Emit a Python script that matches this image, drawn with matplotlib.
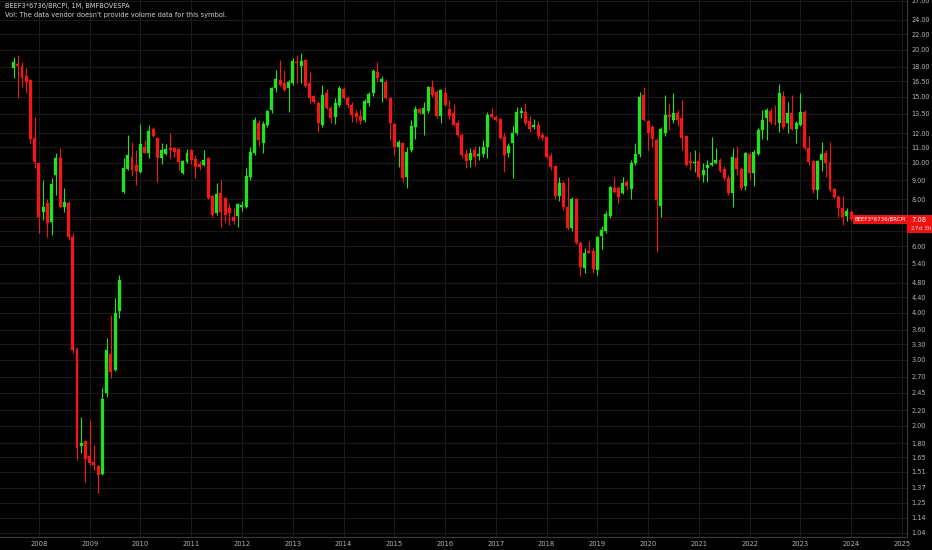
import matplotlib
matplotlib.use("Agg")
import matplotlib.pyplot as plt
from matplotlib.ticker import FixedLocator, FixedFormatter, NullLocator
from matplotlib.patches import Rectangle
import numpy as np
import pandas as pd

# ---------------- data (monthly candles, Jul 2007 .. Jan 2024) ----------------
start_month = "2007-07"
end_month = "2024-01"

opens = [17.85, 18.3, 18.1, 17.06, 16.6, 11.66,
         10.0, 7.41, 7.83, 6.97, 9.29, 10.31, 7.64, 7.83, 6.36, 3.21, 1.77, 1.82,
         1.665, 1.605, 1.567, 1.49, 2.45, 3.11, 2.82, 4.04, 8.37, 9.64, 10.4, 9.88,
         9.47, 11.0, 10.63, 12.32, 11.66, 10.31, 10.57, 10.97, 10.97, 10.9, 9.41, 10.06,
         10.83, 10.25, 9.94, 9.88, 10.31, 8.16, 7.37, 8.32, 8.08, 7.59, 7.19, 7.23,
         7.62, 7.64, 9.18, 10.63, 12.78, 11.3, 12.62, 13.83, 15.83, 16.6, 16.32, 15.83,
         16.32, 18.5, 18.1, 18.8, 16.32, 15.07, 14.44, 12.62, 15.35, 14.0, 13.25, 14.27,
         15.74, 14.9, 14.27, 13.59, 13.33, 13.0, 14.44, 15.35, 17.46, 16.4, 16.4, 14.9,
         12.7, 11.03, 11.3, 9.18, 10.83, 12.45, 13.92, 13.5, 13.75, 15.93, 15.44, 13.33,
         15.35, 13.92, 13.59, 12.78, 11.87, 10.57, 10.19, 10.83, 10.44, 10.57, 11.03, 13.5,
         13.25, 13.09, 11.73, 10.63, 11.3, 12.0, 13.59, 13.67, 12.94, 12.45, 12.62, 11.87,
         11.73, 10.44, 9.82, 8.16, 8.85, 7.64, 6.72, 8.0, 6.13, 5.26, 5.83, 5.83,
         5.2, 6.4, 6.6, 7.23, 8.58, 8.58, 8.32, 8.91, 8.52, 10.0, 10.57, 15.17,
         12.94, 12.45, 11.52, 7.69, 12.0, 13.42, 13.0, 13.59, 13.17, 11.8, 10.12, 10.0,
         10.12, 9.29, 9.7, 9.88, 10.0, 10.19, 9.64, 9.13, 8.32, 10.31, 9.64, 8.67,
         10.57, 9.41, 10.57, 12.24, 13.17, 13.75, 12.78, 12.78, 15.07, 12.78, 13.59, 12.32,
         12.62, 13.67, 10.97, 10.12, 8.46, 10.19, 10.63, 10.06, 8.52, 8.12, 7.59, 7.23,
         7.41]
highs = [19.1, 19.3, 18.5, 17.9, 16.7, 13.25,
         10.06, 9.0, 8.0, 9.1, 10.63, 10.97, 8.58, 7.9, 6.5, 3.25, 2.11, 1.83,
         2.07, 1.78, 1.58, 2.52, 3.43, 3.95, 4.38, 5.04, 10.31, 11.87, 11.37, 10.83,
         12.7, 11.52, 12.62, 12.45, 11.73, 11.3, 11.2, 12.0, 11.0, 10.97, 10.2, 10.9,
         10.9, 10.5, 10.1, 10.83, 10.4, 8.2, 8.85, 9.0, 8.1, 7.83, 7.6, 7.83,
         7.9, 9.7, 11.0, 13.25, 13.0, 12.9, 13.83, 15.93, 17.67, 18.8, 17.67, 16.6,
         19.0, 19.3, 19.6, 18.9, 17.4, 15.2, 14.6, 16.1, 15.7, 14.2, 14.9, 16.0,
         15.9, 15.1, 14.5, 13.8, 13.9, 14.8, 15.4, 17.8, 18.5, 17.0, 16.7, 15.0,
         12.8, 11.52, 11.37, 11.0, 13.0, 14.2, 14.0, 14.5, 16.0, 16.6, 15.6, 15.7,
         15.93, 14.7, 14.3, 13.0, 12.0, 10.9, 10.97, 11.1, 11.1, 11.52, 13.67, 14.0,
         13.4, 13.2, 12.0, 11.3, 12.5, 14.1, 14.1, 14.44, 13.3, 13.1, 12.9, 12.1,
         11.8, 10.6, 9.9, 9.18, 8.95, 9.18, 8.1, 8.05, 6.2, 5.95, 6.2, 5.95,
         6.4, 6.8, 7.45, 8.7, 9.18, 8.7, 9.18, 9.0, 10.2, 11.3, 15.44, 15.93,
         13.0, 12.6, 11.66, 12.48, 15.17, 14.44, 15.35, 13.83, 14.7, 11.9, 10.7, 10.83,
         10.6, 10.0, 10.2, 11.73, 10.97, 10.3, 9.8, 9.3, 10.97, 11.1, 9.75, 10.7,
         10.7, 10.83, 12.4, 13.83, 14.0, 14.0, 14.27, 16.2, 15.5, 14.5, 15.17, 12.9,
         15.35, 13.8, 11.8, 10.2, 10.2, 11.37, 10.8, 11.37, 8.6, 8.2, 8.16, 7.6,
         7.5]
lows = [16.8, 14.9, 15.96, 15.35, 11.3, 9.7,
        6.51, 7.06, 6.36, 6.44, 8.22, 7.6, 7.41, 6.25, 3.13, 1.62, 1.70, 1.42,
        1.575, 1.53, 1.33, 1.48, 2.39, 2.68, 2.8, 3.87, 8.32, 9.58, 9.24, 8.74,
        9.41, 10.6, 10.31, 11.75, 8.91, 9.94, 10.5, 10.25, 10.4, 9.58, 9.35, 10.0,
        9.94, 9.13, 9.6, 9.8, 8.0, 7.19, 7.28, 6.76, 6.97, 6.84, 6.9, 6.76,
        7.45, 7.59, 9.0, 10.5, 11.1, 10.63, 12.45, 13.6, 15.44, 16.0, 15.5, 13.67,
        16.1, 16.3, 16.3, 15.9, 14.44, 14.3, 12.1, 12.45, 13.9, 12.8, 12.7, 14.1,
        14.75, 14.0, 12.86, 12.86, 12.7, 12.86, 14.2, 15.1, 16.4, 14.53, 14.8, 11.52,
        10.5, 9.76, 8.91, 8.6, 10.7, 11.6, 13.45, 11.9, 13.6, 15.0, 13.2, 12.8,
        14.2, 13.1, 12.5, 11.7, 10.3, 9.7, 9.76, 9.82, 10.2, 10.4, 10.31, 13.2,
        12.9, 11.6, 9.47, 10.4, 9.13, 11.9, 13.2, 12.6, 12.1, 12.3, 11.6, 11.5,
        10.3, 9.6, 8.0, 7.9, 7.5, 6.65, 6.6, 6.1, 5.01, 5.1, 5.75, 5.1,
        5.05, 5.9, 6.5, 7.15, 8.3, 7.85, 8.25, 8.45, 8.0, 9.9, 10.4, 12.9,
        10.83, 11.0, 5.8, 7.2, 11.8, 12.2, 12.8, 12.5, 10.83, 9.82, 9.58, 9.47,
        9.0, 8.9, 8.9, 9.8, 9.95, 9.45, 9.0, 8.2, 7.64, 9.3, 8.5, 8.5,
        9.0, 8.7, 10.5, 11.6, 11.52, 12.7, 12.6, 12.1, 12.3, 12.0, 12.2, 11.3,
        12.5, 10.8, 9.9, 8.3, 8.0, 9.5, 9.18, 8.35, 8.05, 7.19, 6.84, 7.0,
        7.0]
closes = [18.6, 18.1, 16.86, 16.4, 11.6, 10.06,
          7.19, 7.64, 6.93, 8.79, 10.31, 7.64, 7.88, 6.36, 3.18, 1.75, 1.80, 1.63,
          1.595, 1.575, 1.48, 2.36, 3.18, 2.78, 4.0, 4.89, 9.7, 10.5, 9.58, 9.53,
          11.23, 10.63, 12.17, 11.8, 10.31, 10.83, 10.9, 10.83, 10.7, 10.06, 10.12, 10.63,
          10.19, 9.76, 9.76, 10.19, 8.08, 7.28, 8.27, 7.41, 7.28, 7.37, 7.01, 7.78,
          7.72, 9.24, 10.7, 13.0, 11.52, 12.7, 13.75, 15.83, 16.73, 16.12, 15.64, 16.4,
          18.67, 18.4, 18.67, 16.02, 14.9, 14.53, 12.78, 15.17, 14.0, 13.17, 14.44, 15.83,
          14.9, 14.27, 13.42, 13.25, 12.94, 14.62, 15.26, 17.57, 16.83, 16.73, 14.9, 12.78,
          11.03, 11.37, 9.13, 10.7, 12.54, 13.92, 13.59, 14.0, 15.93, 15.17, 13.33, 15.64,
          14.27, 13.33, 12.62, 11.87, 10.5, 10.12, 10.63, 10.38, 10.57, 11.0, 13.42, 13.25,
          13.0, 11.66, 10.5, 11.1, 12.0, 13.67, 13.75, 12.78, 12.32, 12.62, 11.8, 11.66,
          10.38, 9.76, 8.16, 8.85, 7.64, 6.72, 8.0, 6.13, 5.29, 5.77, 5.77, 5.23,
          6.36, 6.64, 7.32, 8.64, 8.37, 8.12, 8.85, 8.67, 10.0, 10.57, 14.98, 13.0,
          12.0, 11.59, 7.95, 12.32, 13.42, 13.25, 13.59, 13.0, 11.66, 9.88, 10.0, 10.06,
          9.18, 9.58, 9.88, 10.0, 10.19, 9.53, 9.13, 8.32, 10.38, 9.64, 8.58, 10.63,
          9.41, 10.7, 12.24, 13.0, 13.83, 12.86, 12.7, 15.35, 12.48, 13.59, 12.32, 12.78,
          13.67, 10.97, 10.06, 8.46, 10.12, 10.57, 10.0, 8.46, 8.12, 7.59, 7.19, 7.46,
          7.08]

year_labels = ["2008", "2009", "2010", "2011", "2012", "2013", "2014", "2015", "2016",
               "2017", "2018", "2019", "2020", "2021", "2022", "2023", "2024", "2025"]
price_ticks = [27.0, 24.0, 22.0, 20.0, 18.0, 16.5, 15.0, 13.5, 12.0, 11.0, 10.0, 9.0, 8.0,
               7.2, 6.6, 6.0, 5.4, 4.8, 4.4, 4.0, 3.6, 3.3, 3.0, 2.7, 2.45, 2.2, 2.0, 1.8,
               1.65, 1.51, 1.37, 1.25, 1.14, 1.04]
hidden_ticks = [7.2, 6.6]   # covered by the last-price box
last_price = 7.08
symbol = "BEEF3*6736/BRCPI"
title_line1 = "BEEF3*6736/BRCPI, 1M, BMFBOVESPA"
title_line2 = "Vol: The data vendor doesn't provide volume data for this symbol."
countdown = "27d 3h"

# ---------------- figure ----------------
W, H = 932, 550
BG = "#000000"
GRID = "#1a1a1a"
TXT = "#b2b5be"
UP = "#1fe31f"
DOWN = "#f01818"

fig = plt.figure(figsize=(W / 100, H / 100), dpi=100, facecolor=BG)
ax_right_px = 907
ax_bottom_px = 537
ax = fig.add_axes([0, (H - ax_bottom_px) / H, ax_right_px / W, ax_bottom_px / H])
ax.set_facecolor(BG)

months = pd.period_range(start_month, end_month, freq="M")
x = np.array([(p.year - 2008) * 12 + (p.month - 1) for p in months], dtype=float)
o = np.array(opens); h = np.array(highs); l = np.array(lows); c = np.array(closes)
up = c >= o
cols = np.where(up, UP, DOWN)

ax.vlines(x, l, h, colors=cols, linewidth=0.8, zorder=3)
bottoms = np.minimum(o, c)
heights = np.maximum(np.abs(c - o), bottoms * 0.006)
ax.bar(x, heights, bottom=bottoms, width=0.7, color=cols, edgecolor=cols,
       linewidth=0.2, zorder=4)

ax.set_yscale("log")
ax.set_ylim(1.014, 27.1)
ax.set_xlim(-9.2, 205.2)

# axes, ticks, grid
ax.yaxis.set_major_locator(FixedLocator(price_ticks))
ax.yaxis.set_major_formatter(FixedFormatter(
    ["" if v in hidden_ticks else "%.2f" % v for v in price_ticks]))
ax.yaxis.set_minor_locator(NullLocator())
ax.yaxis.tick_right()
ax.tick_params(axis="y", length=0, pad=3.2, labelsize=4.7, labelcolor=TXT)
year_pos = [12 * i for i in range(len(year_labels))]
ax.xaxis.set_major_locator(FixedLocator(year_pos))
ax.xaxis.set_major_formatter(FixedFormatter(year_labels))
ax.xaxis.set_minor_locator(NullLocator())
ax.tick_params(axis="x", length=0, pad=3, labelsize=4.9, labelcolor=TXT)
ax.grid(True, color=GRID, linewidth=0.8, zorder=0)
ax.set_axisbelow(True)
for s in ["top", "left"]:
    ax.spines[s].set_visible(False)
for s in ["right", "bottom"]:
    ax.spines[s].set_color("#3a3a3a")
    ax.spines[s].set_linewidth(0.8)

# last price line
ax.axhline(last_price, color="#6a0c0c", linewidth=0.7, linestyle=(0, (1, 1)), zorder=2)

# symbol label inside chart at last price
ax.text(0.999, last_price, symbol, transform=ax.get_yaxis_transform(), ha="right",
        va="center", fontsize=4.0, color="white", zorder=6,
        bbox=dict(boxstyle="square,pad=0.3", facecolor="#ee1111", edgecolor="none"))

# price box on the axis
fig.patches.append(Rectangle((ax_right_px / W, 1 - 233 / H), (W - ax_right_px) / W, 18 / H,
                             transform=fig.transFigure, facecolor="#ee1111",
                             edgecolor="none", zorder=10))
fig.text((ax_right_px + 4) / W, 1 - 220.5 / H, "%.2f" % last_price, fontsize=4.9,
         color="white", va="center", ha="left", zorder=11)
fig.text((ax_right_px + 4) / W, 1 - 228.5 / H, countdown, fontsize=4.2,
         color="#ffd6d6", va="center", ha="left", zorder=11)

# header texts
fig.text(5 / W, 1 - 6 / H, title_line1, fontsize=4.8, color="#d1d4dc", va="center", ha="left")
fig.text(5 / W, 1 - 15.5 / H, title_line2, fontsize=4.8, color="#d1d4dc", va="center", ha="left")

fig.savefig("out.png", dpi=100, facecolor=BG)
